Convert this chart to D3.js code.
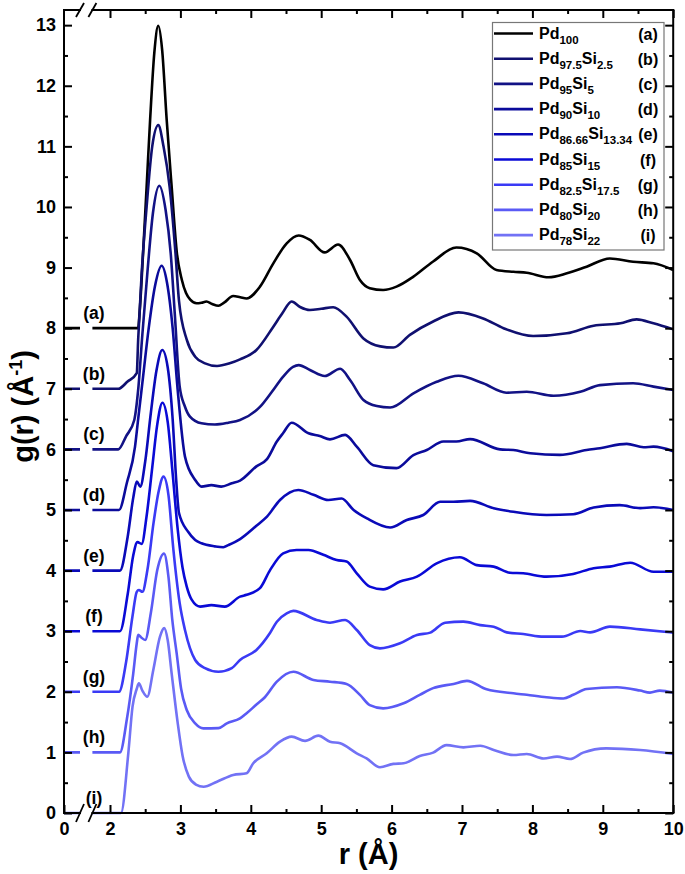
<!DOCTYPE html>
<html><head><meta charset="utf-8">
<script src="https://cdn.jsdelivr.net/npm/d3@7"></script>
<style>body{margin:0;background:#fff}svg{display:block}</style>
</head><body>
<svg id="chart" width="685" height="874"></svg>
<script>
// ---------------- DATA ----------------
const seriesNames = ["Pd_{100}","Pd_{97.5}Si_{2.5}","Pd_{95}Si_{5}","Pd_{90}Si_{10}","Pd_{86.66}Si_{13.34}","Pd_{85}Si_{15}","Pd_{82.5}Si_{17.5}","Pd_{80}Si_{20}","Pd_{78}Si_{22}"];
const seriesLetters = ["(a)","(b)","(c)","(d)","(e)","(f)","(g)","(h)","(i)"];
const offsets = [8,7,6,5,4,3,2,1,0];
const xMajorTicks = [0,2,3,4,5,6,7,8,9,10];
const xMinorTicks = [2.5,3.5,4.5,5.5,6.5,7.5,8.5,9.5];
const yMajorTicks = [0,1,2,3,4,5,6,7,8,9,10,11,12,13];
const yMinorTicks = [0.5,1.5,2.5,3.5,4.5,5.5,6.5,7.5,8.5,9.5,10.5,11.5,12.5];

// g(r) values (before vertical offset), pairs [r, g]
const pd100 = [[0,0],[2.40,0],[2.42,0.25],[2.47,1.24],[2.52,2.33],[2.57,3.44],[2.63,4.55],[2.686,4.99],[2.74,4.6],[2.805,3.44],[2.876,2.33],[2.95,1.24],[3.02,0.80],[3.08,0.58],[3.14,0.47],[3.23,0.41],[3.30,0.42],[3.37,0.44],[3.45,0.40],[3.54,0.37],[3.62,0.42],[3.75,0.53],[3.85,0.51],[3.94,0.49],[4.13,0.685],[4.32,1.07],[4.51,1.40],[4.68,1.53],[4.84,1.455],[5.05,1.25],[5.24,1.38],[5.41,1.125],[5.55,0.795],[5.69,0.66],[5.88,0.63],[6.07,0.685],[6.31,0.85],[6.59,1.10],[6.92,1.33],[7.21,1.235],[7.49,0.96],[7.73,0.93],[7.92,0.915],[8.23,0.84],[8.49,0.905],[8.77,1.015],[9.10,1.15],[9.43,1.095],[9.72,1.07],[10.0,0.96]];
const pd975 = [[0,0],[2.118,0],[2.25,0.12],[2.38,0.26],[2.40,0.81],[2.45,1.91],[2.52,3.0],[2.60,4.0],[2.686,4.35],[2.76,4.0],[2.847,3.33],[2.93,2.24],[2.98,1.45],[3.09,0.81],[3.21,0.53],[3.35,0.42],[3.52,0.376],[3.70,0.42],[3.847,0.485],[4.08,0.64],[4.32,1.025],[4.45,1.25],[4.58,1.44],[4.70,1.35],[4.84,1.30],[5.0,1.32],[5.17,1.345],[5.36,1.19],[5.60,0.83],[5.84,0.70],[6.025,0.68],[6.26,0.89],[6.59,1.11],[6.95,1.26],[7.30,1.16],[7.59,1.00],[8.01,0.87],[8.49,0.915],[8.87,1.04],[9.25,1.08],[9.48,1.145],[9.72,1.08],[10.0,0.98]];
const pd95 = [[0,0],[2.118,0],[2.23,0.22],[2.345,0.485],[2.40,0.98],[2.46,1.9],[2.53,2.9],[2.61,3.9],[2.70,4.35],[2.79,3.95],[2.862,3.24],[2.92,2.24],[2.99,1.035],[3.06,0.72],[3.136,0.54],[3.30,0.43],[3.49,0.41],[3.68,0.44],[3.847,0.485],[4.13,0.70],[4.30,0.95],[4.46,1.20],[4.60,1.36],[4.68,1.39],[4.84,1.31],[5.05,1.21],[5.27,1.33],[5.41,1.145],[5.60,0.815],[5.79,0.715],[5.98,0.69],[6.31,0.925],[6.64,1.115],[6.95,1.215],[7.30,1.09],[7.63,0.935],[7.92,0.95],[8.30,0.885],[8.68,0.95],[8.96,1.06],[9.43,1.09],[9.72,1.035],[10.0,0.98]];
const pd90 = [[0,0],[2.128,0],[2.24,0.45],[2.355,1.04],[2.40,1.5],[2.47,2.2],[2.55,3.0],[2.64,3.7],[2.734,4.03],[2.81,3.75],[2.89,3.0],[2.96,2.0],[3.065,0.88],[3.21,0.495],[3.30,0.385],[3.44,0.41],[3.58,0.385],[3.73,0.44],[3.847,0.485],[4.08,0.72],[4.23,0.84],[4.37,1.13],[4.46,1.27],[4.58,1.44],[4.82,1.265],[4.98,1.22],[5.125,1.165],[5.34,1.24],[5.505,1.045],[5.74,0.74],[6.07,0.69],[6.31,0.905],[6.50,0.99],[6.735,1.13],[6.92,1.13],[7.115,1.17],[7.54,1.00],[7.73,0.99],[7.97,0.935],[8.39,0.91],[8.77,0.99],[8.96,1.02],[9.34,1.09],[9.58,1.035],[9.72,1.045],[10.0,0.97]];
const pd8666 = [[0,0],[2.142,0],[2.25,0.55],[2.33,1.2],[2.38,1.47],[2.43,1.385],[2.50,1.8],[2.58,2.6],[2.66,3.3],[2.743,3.64],[2.82,3.35],[2.89,2.5],[2.94,1.5],[2.98,0.95],[3.11,0.64],[3.21,0.505],[3.30,0.45],[3.49,0.40],[3.61,0.385],[3.68,0.42],[3.847,0.52],[4.08,0.74],[4.23,0.89],[4.415,1.165],[4.675,1.33],[4.89,1.25],[5.10,1.165],[5.29,1.19],[5.46,1.00],[5.65,0.86],[5.98,0.71],[6.215,0.835],[6.45,0.917],[6.69,1.135],[6.88,1.135],[7.115,1.15],[7.45,1.03],[7.73,0.97],[8.20,0.917],[8.58,0.93],[8.87,1.04],[9.24,1.08],[9.53,1.03],[9.72,1.045],[10.0,1.00]];
const pd85 = [[0,0],[2.142,0],[2.25,0.6],[2.33,1.25],[2.39,1.47],[2.45,1.44],[2.52,1.9],[2.60,2.7],[2.67,3.4],[2.745,3.77],[2.82,3.45],[2.89,2.6],[2.96,1.7],[3.03,1.05],[3.09,0.735],[3.16,0.52],[3.28,0.405],[3.44,0.43],[3.63,0.405],[3.847,0.57],[3.94,0.60],[4.13,0.71],[4.27,1.0],[4.46,1.285],[4.65,1.34],[4.82,1.34],[5.03,1.26],[5.22,1.175],[5.36,1.15],[5.505,0.955],[5.69,0.735],[5.88,0.69],[6.12,0.82],[6.36,0.90],[6.64,1.12],[6.97,1.22],[7.21,1.09],[7.45,1.065],[7.68,0.965],[7.87,0.955],[8.20,0.90],[8.58,0.945],[8.87,1.04],[9.10,1.065],[9.39,1.13],[9.72,0.98],[10.0,0.98]];
const pd825 = [[0,0],[2.128,0],[2.23,0.5],[2.32,1.25],[2.38,1.65],[2.41,1.68],[2.46,1.65],[2.53,2.0],[2.62,2.8],[2.69,3.3],[2.76,3.55],[2.83,3.25],[2.90,2.35],[2.99,1.46],[3.065,1.02],[3.136,0.72],[3.21,0.525],[3.35,0.39],[3.54,0.33],[3.73,0.39],[3.847,0.525],[4.08,0.69],[4.27,0.965],[4.37,1.157],[4.51,1.295],[4.605,1.335],[4.935,1.185],[5.125,1.14],[5.34,1.185],[5.505,1.02],[5.69,0.77],[5.835,0.717],[6.12,0.80],[6.36,0.937],[6.55,0.976],[6.76,1.14],[7.02,1.157],[7.26,1.10],[7.45,1.075],[7.635,0.98],[7.87,0.954],[8.16,0.91],[8.42,0.91],[8.68,1.003],[8.82,0.98],[9.10,1.075],[9.53,1.03],[10.0,0.976]];
const pd80 = [[0,0],[2.142,0],[2.24,0.55],[2.33,1.3],[2.38,1.8],[2.40,1.94],[2.44,1.9],[2.50,1.855],[2.58,2.3],[2.67,3.0],[2.767,3.28],[2.83,2.9],[2.885,2.185],[2.947,1.635],[3.01,1.05],[3.09,0.70],[3.21,0.48],[3.325,0.397],[3.54,0.40],[3.66,0.48],[3.847,0.56],[3.94,0.645],[4.08,0.79],[4.20,0.91],[4.37,1.167],[4.605,1.33],[4.89,1.195],[5.125,1.167],[5.36,1.13],[5.55,0.95],[5.69,0.78],[5.88,0.727],[6.17,0.81],[6.40,0.95],[6.59,1.06],[6.88,1.13],[7.07,1.18],[7.35,1.04],[7.73,0.975],[7.92,0.95],[8.20,0.91],[8.44,0.89],[8.58,0.95],[8.77,1.046],[9.20,1.074],[9.53,1.02],[9.67,0.986],[9.81,1.02],[10.0,0.986]];
const pd78 = [[0,0],[2.156,0],[2.26,0.985],[2.32,1.755],[2.38,2.05],[2.41,2.14],[2.46,2.02],[2.53,1.92],[2.615,2.36],[2.71,2.91],[2.77,3.05],[2.82,2.85],[2.876,2.3],[2.96,1.5],[3.03,0.95],[3.12,0.6],[3.22,0.47],[3.33,0.434],[3.52,0.517],[3.75,0.627],[3.94,0.655],[4.035,0.82],[4.226,0.985],[4.415,1.177],[4.58,1.26],[4.77,1.19],[4.96,1.276],[5.125,1.177],[5.27,1.15],[5.505,0.985],[5.645,0.90],[5.835,0.754],[6.025,0.81],[6.17,0.82],[6.40,0.94],[6.59,0.996],[6.78,1.12],[7.02,1.083],[7.26,1.11],[7.45,1.04],[7.73,0.957],[7.92,0.974],[8.16,0.90],[8.35,0.93],[8.535,0.89],[8.72,0.996],[9.05,1.067],[9.53,1.04],[10.0,0.974]];
const seriesData = [pd100,pd975,pd95,pd90,pd8666,pd85,pd825,pd80,pd78];

// ---------------- STYLE ----------------
const colors = ["#000000","#101070","#121285","#0b0b9b","#0a0ab8","#0a0ad6","#3a3af5","#5a5af5","#7272f5"];
const FONT = "'Liberation Sans', Arial, Helvetica, sans-serif";

const svg = d3.select("#chart");
const L = 64, R = 673.2, T = 10, B = 813;
const breakL = 80, breakR = 92.4;
// broken x axis: 0..0.22 | 1.75..10
const x = d3.scaleLinear().domain([0, 0.22, 1.75, 10]).range([L, breakL - 0.5, breakR, R]);
const y = d3.scaleLinear().domain([0, 13.25]).range([B, T]);

// clip for the two x segments
const defs = svg.append("defs");
const cp = defs.append("clipPath").attr("id","clip");
cp.append("rect").attr("x", L).attr("y", 0).attr("width", breakL - L).attr("height", 874);
cp.append("rect").attr("x", breakR).attr("y", 0).attr("width", R - breakR + 1).attr("height", 874);

// curves
const gCurves = svg.append("g").attr("clip-path","url(#clip)");
seriesData.forEach((data, i) => {
  const line = d3.line().x(d => x(d[0])).y(d => y(d[1] + offsets[i])).curve(d3.curveMonotoneX);
  gCurves.append("path").datum(data).attr("d", line)
    .attr("fill","none").attr("stroke", colors[i]).attr("stroke-width", 2.6)
    .attr("stroke-linejoin","round").attr("stroke-linecap","butt");
});

// curve letters on the left
seriesLetters.forEach((t, i) => {
  svg.append("text").attr("x", 94).attr("y", y(offsets[i]) - 9)
    .attr("text-anchor","middle").attr("font-family", FONT).attr("font-weight","bold")
    .attr("font-size", 17.5).attr("fill","#000").text(t);
});

// axes
function styleAxis(g) {
  g.select(".domain").remove();
  g.selectAll(".tick line").attr("stroke","#000").attr("stroke-width", 2);
  g.selectAll(".tick text").attr("font-family", FONT).attr("font-weight","bold").attr("font-size", 18).attr("fill","#000");
}
// bottom
svg.append("g").attr("transform",`translate(0,${B})`)
  .call(d3.axisBottom(x).tickValues(xMajorTicks).tickSize(-8).tickPadding(9).tickFormat(d3.format("d")))
  .call(styleAxis).selectAll(".tick text").attr("dy","0.71em");
svg.append("g").attr("transform",`translate(0,${B})`)
  .call(d3.axisBottom(x).tickValues(xMinorTicks).tickSize(-4).tickFormat(""))
  .call(styleAxis);
// top
svg.append("g").attr("transform",`translate(0,${T})`)
  .call(d3.axisTop(x).tickValues(xMajorTicks.filter(v => v > 0)).tickSize(-8).tickFormat(""))
  .call(styleAxis);
svg.append("g").attr("transform",`translate(0,${T})`)
  .call(d3.axisTop(x).tickValues(xMinorTicks).tickSize(-4).tickFormat(""))
  .call(styleAxis);
// left
svg.append("g").attr("transform",`translate(${L},0)`)
  .call(d3.axisLeft(y).tickValues(yMajorTicks).tickSize(-8).tickPadding(8).tickFormat(d3.format("d")))
  .call(styleAxis);
svg.append("g").attr("transform",`translate(${L},0)`)
  .call(d3.axisLeft(y).tickValues(yMinorTicks).tickSize(-4).tickFormat(""))
  .call(styleAxis);
// right
svg.append("g").attr("transform",`translate(${R},0)`)
  .call(d3.axisRight(y).tickValues(yMajorTicks).tickSize(-8).tickFormat(""))
  .call(styleAxis);
svg.append("g").attr("transform",`translate(${R},0)`)
  .call(d3.axisRight(y).tickValues(yMinorTicks).tickSize(-4).tickFormat(""))
  .call(styleAxis);

// frame with break gaps
const frame = svg.append("g").attr("stroke","#000").attr("stroke-width",2).attr("fill","none").attr("stroke-linecap","square");
frame.append("line").attr("x1",L).attr("y1",T).attr("x2",L).attr("y2",B);
frame.append("line").attr("x1",R).attr("y1",T).attr("x2",R).attr("y2",B);
[T, B].forEach(yy => {
  frame.append("line").attr("x1",L).attr("y1",yy).attr("x2",breakL).attr("y2",yy);
  frame.append("line").attr("x1",breakR).attr("y1",yy).attr("x2",R).attr("y2",yy);
});
// break marks //
const bm = svg.append("g").attr("stroke","#000").attr("stroke-width",1.8);
[[B, 9],[T, 7]].forEach(([yy, h]) => {
  [breakL, breakR].forEach(xx => {
    bm.append("line").attr("x1", xx - 4).attr("y1", yy + h).attr("x2", xx + 4).attr("y2", yy - h);
  });
});

// axis titles
svg.append("text").attr("x", (L + R) / 2).attr("y", 864)
  .attr("text-anchor","middle").attr("font-family", FONT).attr("font-weight","bold").attr("font-size", 29)
  .text("r (Å)");
const yt = svg.append("text").attr("transform", `translate(33,${(T + B) / 2 - 5}) rotate(-90)`)
  .attr("text-anchor","middle").attr("font-family", FONT).attr("font-weight","bold").attr("font-size", 29);
yt.append("tspan").text("g(r) (Å");
yt.append("tspan").attr("font-size", 18).attr("dy", -11).text("-1");
yt.append("tspan").attr("dy", 11).text(")");

// legend
function richText(sel, str, size, subSize, shift) {
  const parts = str.split(/(_\{[^}]*\})/).filter(s => s.length);
  let cur = 0;
  parts.forEach(p => {
    const isSub = p.startsWith("_{");
    const target = isSub ? shift : 0;
    sel.append("tspan").attr("dy", target - cur).attr("font-size", isSub ? subSize : size)
      .text(isSub ? p.slice(2, -1) : p);
    cur = target;
  });
}
const lg = svg.append("g");
lg.append("rect").attr("x", 492.5).attr("y", 22.5).attr("width", 171.5).attr("height", 227.5)
  .attr("fill","#fff").attr("stroke","#777").attr("stroke-width",1.2);
seriesNames.forEach((name, i) => {
  const cy = 33.5 + i * 25.2;
  lg.append("line").attr("x1", 494).attr("x2", 533).attr("y1", cy).attr("y2", cy)
    .attr("stroke", colors[i]).attr("stroke-width", 2.6);
  const t = lg.append("text").attr("x", 539).attr("y", cy + 5)
    .attr("font-family", FONT).attr("font-weight","bold").attr("font-size", 16).attr("fill","#000");
  richText(t, name, 16, 11.5, 5);
  lg.append("text").attr("x", 648).attr("y", cy + 6).attr("text-anchor","middle")
    .attr("font-family", FONT).attr("font-weight","bold").attr("font-size", 16).attr("fill","#000")
    .text(seriesLetters[i]);
});
</script>
</body></html>
